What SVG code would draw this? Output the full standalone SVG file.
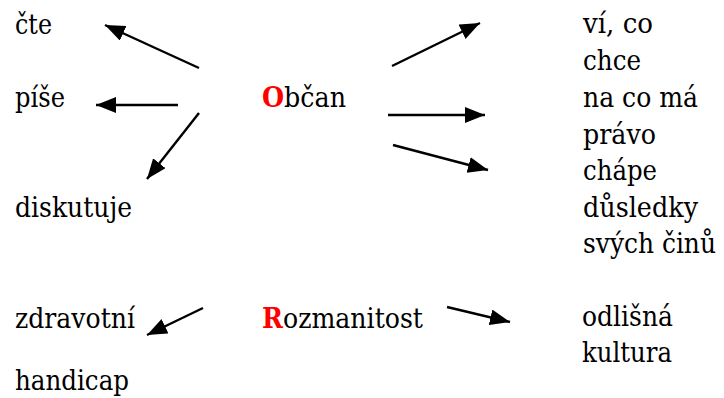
<svg xmlns="http://www.w3.org/2000/svg" width="724" height="398" viewBox="0 0 724 398">
<defs>
<style>
text{font-family:"DejaVu Serif",serif;font-size:28px;fill:#000}
.red{fill:#ff0000;font-weight:bold}
.conn line{stroke:#000;stroke-width:2.4;marker-end:url(#ah)}
</style>
<marker id="ah" markerUnits="userSpaceOnUse" markerWidth="22" markerHeight="17" refX="20" refY="8" orient="auto" viewBox="0 0 22 17">
<path d="M0,0 L20,8 L0,16 z" fill="#000"/>
</marker>
</defs>
<rect width="724" height="398" fill="#fff"/>
<g id="obcan"><text x="262" y="107" textLength="84" lengthAdjust="spacingAndGlyphs"><tspan class="red">O</tspan>bčan</text></g>
<g id="cte"><text x="15" y="34" textLength="37" lengthAdjust="spacingAndGlyphs">čte</text></g>
<g id="pise"><text x="15" y="107" textLength="50" lengthAdjust="spacingAndGlyphs">píše</text></g>
<g id="diskutuje"><text x="15" y="217" textLength="117" lengthAdjust="spacingAndGlyphs">diskutuje</text></g>
<g id="vi-co-chce"><text x="583" y="33" textLength="70" lengthAdjust="spacingAndGlyphs">ví, co</text><text x="583" y="70" textLength="58" lengthAdjust="spacingAndGlyphs">chce</text></g>
<g id="na-co-ma-pravo"><text x="583" y="107" textLength="115" lengthAdjust="spacingAndGlyphs">na co má</text><text x="583" y="144" textLength="73" lengthAdjust="spacingAndGlyphs">právo</text></g>
<g id="chape-dusledky"><text x="583" y="180" textLength="74" lengthAdjust="spacingAndGlyphs">chápe</text><text x="583" y="217" textLength="115" lengthAdjust="spacingAndGlyphs">důsledky</text><text x="583" y="253" textLength="133" lengthAdjust="spacingAndGlyphs">svých činů</text></g>
<g id="rozmanitost"><text x="262" y="328" textLength="161" lengthAdjust="spacingAndGlyphs"><tspan class="red">R</tspan>ozmanitost</text></g>
<g id="zdravotni-handicap"><text x="15" y="328" textLength="120" lengthAdjust="spacingAndGlyphs">zdravotní</text><text x="15" y="390" textLength="114" lengthAdjust="spacingAndGlyphs">handicap</text></g>
<g id="odlisna-kultura"><text x="582" y="326" textLength="91" lengthAdjust="spacingAndGlyphs">odlišná</text><text x="582" y="362" textLength="90" lengthAdjust="spacingAndGlyphs">kultura</text></g>
<g id="connectors" class="conn">
<line x1="199" y1="68" x2="105" y2="25"/>
<line x1="178" y1="105" x2="96" y2="105"/>
<line x1="199" y1="113" x2="147" y2="179"/>
<line x1="392" y1="66" x2="480" y2="23"/>
<line x1="388" y1="115" x2="485" y2="115"/>
<line x1="393" y1="145" x2="488" y2="170"/>
<line x1="203" y1="308" x2="147" y2="335"/>
<line x1="447" y1="307" x2="510" y2="322"/>
</g>
</svg>
